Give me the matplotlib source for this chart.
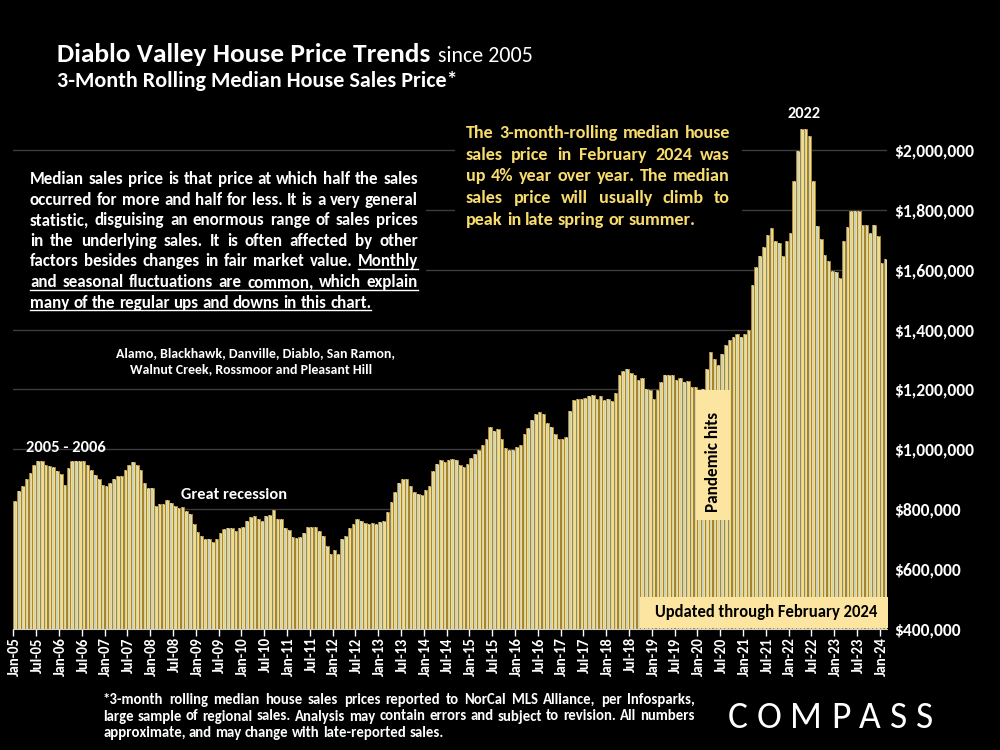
import matplotlib
matplotlib.use("Agg")
import matplotlib.pyplot as plt
from matplotlib.patches import Rectangle
from matplotlib.lines import Line2D

# 3-month rolling median price, $ thousands, Jan-05 .. Feb-24
prices_k = [
    827, 861, 878, 902, 922, 949, 960, 960, 949, 943, 940, 928,      # 2005
    917, 882, 936, 960, 960, 960, 960, 949, 930, 913, 902, 880,      # 2006
    877, 889, 902, 911, 911, 930, 949, 958, 947, 930, 888, 872,      # 2007
    872, 811, 816, 816, 832, 821, 812, 805, 808, 793, 783, 750,      # 2008
    723, 711, 701, 699, 692, 702, 719, 733, 737, 737, 726, 736,      # 2009
    742, 760, 773, 776, 769, 761, 777, 780, 796, 769, 769, 737,      # 2010
    732, 708, 704, 708, 721, 740, 740, 740, 726, 709, 677, 652,      # 2011
    663, 652, 700, 712, 738, 752, 767, 762, 754, 752, 754, 752,      # 2012
    757, 759, 791, 824, 858, 889, 902, 902, 877, 856, 850, 847,      # 2013
    863, 879, 927, 950, 966, 957, 966, 967, 966, 949, 941, 952,      # 2014
    971, 986, 999, 1014, 1034, 1074, 1061, 1069, 1033, 1004, 999, 999,  # 2015
    1008, 1014, 1052, 1071, 1099, 1119, 1124, 1118, 1089, 1073, 1050, 1033,  # 2016
    1033, 1040, 1128, 1166, 1169, 1169, 1171, 1179, 1181, 1169, 1178, 1166,  # 2017
    1169, 1160, 1188, 1249, 1263, 1269, 1254, 1248, 1233, 1238, 1200, 1199,  # 2018
    1169, 1199, 1224, 1249, 1249, 1249, 1230, 1239, 1224, 1229, 1208, 1208,  # 2019
    1194, 1201, 1269, 1324, 1302, 1282, 1319, 1350, 1366, 1374, 1384, 1374,  # 2020
    1384, 1399, 1549, 1608, 1647, 1677, 1717, 1738, 1697, 1688, 1647, 1697,  # 2021
    1722, 1897, 1997, 2071, 2071, 2047, 1897, 1747, 1702, 1649, 1630, 1597,  # 2022
    1593, 1572, 1697, 1743, 1797, 1797, 1797, 1748, 1748, 1722, 1748, 1711,  # 2023
    1622, 1636,                                                           # 2024
]

tick_labels = [
    "Jan-05", "Jul-05", "Jan-06", "Jul-06", "Jan-07", "Jul-07", "Jan-08", "Jul-08",
    "Jan-09", "Jul-09", "Jan-10", "Jul-10", "Jan-11", "Jul-11", "Jan-12", "Jul-12",
    "Jan-13", "Jul-13", "Jan-14", "Jul-14", "Jan-15", "Jul-15", "Jan-16", "Jul-16",
    "Jan-17", "Jul-17", "Jan-18", "Jul-18", "Jan-19", "Jul-19", "Jan-20", "Jul-20",
    "Jan-21", "Jul-21", "Jan-22", "Jul-22", "Jan-23", "Jul-23", "Jan-24",
]

y_ticks = [400000, 600000, 800000, 1000000, 1200000, 1400000, 1600000, 1800000, 2000000]
y_tick_labels = ["$400,000", "$600,000", "$800,000", "$1,000,000", "$1,200,000",
                 "$1,400,000", "$1,600,000", "$1,800,000", "$2,000,000"]

left_note = [
    "Median sales price is that price at which half the sales",
    "occurred for more and half for less. It is a very general",
    "statistic, disguising an enormous range of sales prices",
    "in the underlying sales. It is often affected by other",
    "factors besides changes in fair market value. Monthly",
    "and seasonal fluctuations are common, which explain",
    "many of the regular ups and downs in this chart.",
]
right_note = [
    "The 3-month-rolling median house",
    "sales price in February 2024 was",
    "up 4% year over year. The median",
    "sales price will usually climb to",
    "peak in late spring or summer.",
]
footnote = [
    "*3-month rolling median house sales prices reported to NorCal MLS Alliance, per Infosparks,",
    "large sample of regional sales. Analysis may contain errors and subject to revision. All numbers",
    "approximate, and may change with late-reported sales.",
]
towns = ["Alamo, Blackhawk, Danville, Diablo, San Ramon,",
         "Walnut Creek, Rossmoor and Pleasant Hill"]

W, H = 1000, 750
YELLOW = "#f8dc6c"
plt.rcParams["font.family"] = ["Carlito", "Lato", "DejaVu Sans"]

fig = plt.figure(figsize=(10, 7.5), dpi=100, facecolor="black")
ax = fig.add_axes([13.3 / W, 1 - 629 / H, 874 / W, 539 / H])
ax.set_facecolor("black")

xs = list(range(len(prices_k)))
vals = [p * 1000 for p in prices_k]
ax.bar(xs, vals, width=0.92, color="#f1dc8c", edgecolor="#a9852c", linewidth=0.7, zorder=2)
ax.bar(xs, vals, width=0.3, color="#c9d3c3", linewidth=0, zorder=3)

ax.set_xlim(-0.5, len(prices_k) - 0.5)
ax.set_ylim(400000, 2200000)
ax.set_axisbelow(True)
ax.yaxis.grid(True, color="#3c3c3c", linewidth=1)

######### axes and ticks #########
renderer = fig.canvas.get_renderer()


def width_of(s, size, weight="bold"):
    t = fig.text(0, 0, s, fontsize=size, fontweight=weight)
    w = t.get_window_extent(renderer).width
    t.remove()
    return w


def fit(s, target, weight="bold"):
    return 10 * target / width_of(s, 10, weight)


ax.set_xticks([i * 6 - 0.5 for i in range(len(tick_labels))])
ax.set_xticklabels([])
ax.set_xticks([i * 6 for i in range(len(tick_labels))], minor=True)
ax.set_xticklabels(tick_labels, minor=True, rotation=90, fontweight="bold",
                   fontsize=fit("Jan-05", 39))
ax.tick_params(axis="x", which="major", length=5, width=1, color="white", direction="out")
ax.tick_params(axis="x", which="minor", length=0, pad=6, labelcolor="white")

ax.yaxis.tick_right()
ax.set_yticks(y_ticks)
ax.set_yticklabels(y_tick_labels, fontweight="bold", fontsize=fit("$2,000,000", 80))
ax.tick_params(axis="y", length=0, pad=5, labelcolor="white")

for s in ["top", "left", "right"]:
    ax.spines[s].set_visible(False)
ax.spines["bottom"].set_color("#d0d0d0")

######### text helpers #########


def put(s, x, y, size, color="white", weight="bold", ha="left", **kw):
    return fig.text(x / W, 1 - y / H, s, fontsize=size, color=color, fontweight=weight,
                    ha=ha, va="baseline", **kw)


def paragraph(lines, x0, x1, y0, dy, color="white", underline_from=None):
    natural = max(width_of(l, 10) for l in lines[:-1])
    size = 10 * (x1 - x0) / natural * 0.985
    space = width_of("a a", size) - width_of("aa", size)
    for i, line in enumerate(lines):
        words = line.split()
        ws = [width_of(w, size) for w in words]
        if i == len(lines) - 1:
            gap = space
        else:
            gap = (x1 - x0 - sum(ws)) / (len(words) - 1)
        x = x0
        y = y0 + i * dy
        ul_start = None
        for j, (w, wd) in enumerate(zip(words, ws)):
            put(w, x, y, size, color)
            if underline_from is not None and (i, j) >= underline_from and ul_start is None:
                ul_start = x
            x += wd + gap
        if ul_start is not None:
            x_end = x - gap
            fig.add_artist(Line2D([ul_start / W, x_end / W], [1 - (y + 2.5) / H] * 2,
                                  transform=fig.transFigure, color=color, linewidth=1))


def box(x0, y0, x1, y1, color):
    fig.add_artist(Rectangle((x0 / W, 1 - y1 / H), (x1 - x0) / W, (y1 - y0) / H,
                             transform=fig.transFigure, facecolor=color,
                             edgecolor="none", zorder=1))


######### titles #########
title = "Diablo Valley House Price Trends"
put(title, 57, 62, fit(title, 373))
put("since 2005", 438, 62, fit("since 2005", 95, "normal"), weight="normal")
sub = "3-Month Rolling Median House Sales Price*"
put(sub, 57, 87, fit(sub, 400))

######### notes #########
box(12, 163, 426, 316, "black")
paragraph(left_note, 30, 418, 184, 20.6, underline_from=(4, 7))
box(455, 118, 742, 232, "black")
paragraph(right_note, 466, 730, 138, 21.7, color=YELLOW)

town_size = fit(towns[0], 279)
put(towns[0], 256, 357, town_size, ha="center")
put(towns[1], 251, 373, town_size, ha="center")

put("2005 - 2006", 26, 452, fit("2005 - 2006", 79))
put("Great recession", 181, 499, fit("Great recession", 106))
put("2022", 787, 118, fit("2022", 33))

box(696, 390, 730, 520, "#fbe5a0")
fig.text(713 / W, 1 - 462 / H, "Pandemic hits", rotation=90, ha="center", va="center",
         fontsize=fit("Pandemic hits", 100), fontweight="bold", color="black")

box(640, 597, 888, 628, "#fbe5a0")
upd = "Updated through February 2024"
put(upd, 766, 617, fit(upd, 222), color="black", ha="center")

paragraph(footnote, 103, 695, 704, 16.5)

# COMPASS logo, letters spread across the span
logo = "COMPASS"
logo_size = 27
lw = [width_of(c, logo_size, "normal") for c in logo]
gap = (933 - 728 - sum(lw)) / (len(logo) - 1)
x = 728
for c, wd in zip(logo, lw):
    put(c, x, 728, logo_size, weight="normal")
    x += wd + gap

fig.savefig("out.png", dpi=100, facecolor="black")
